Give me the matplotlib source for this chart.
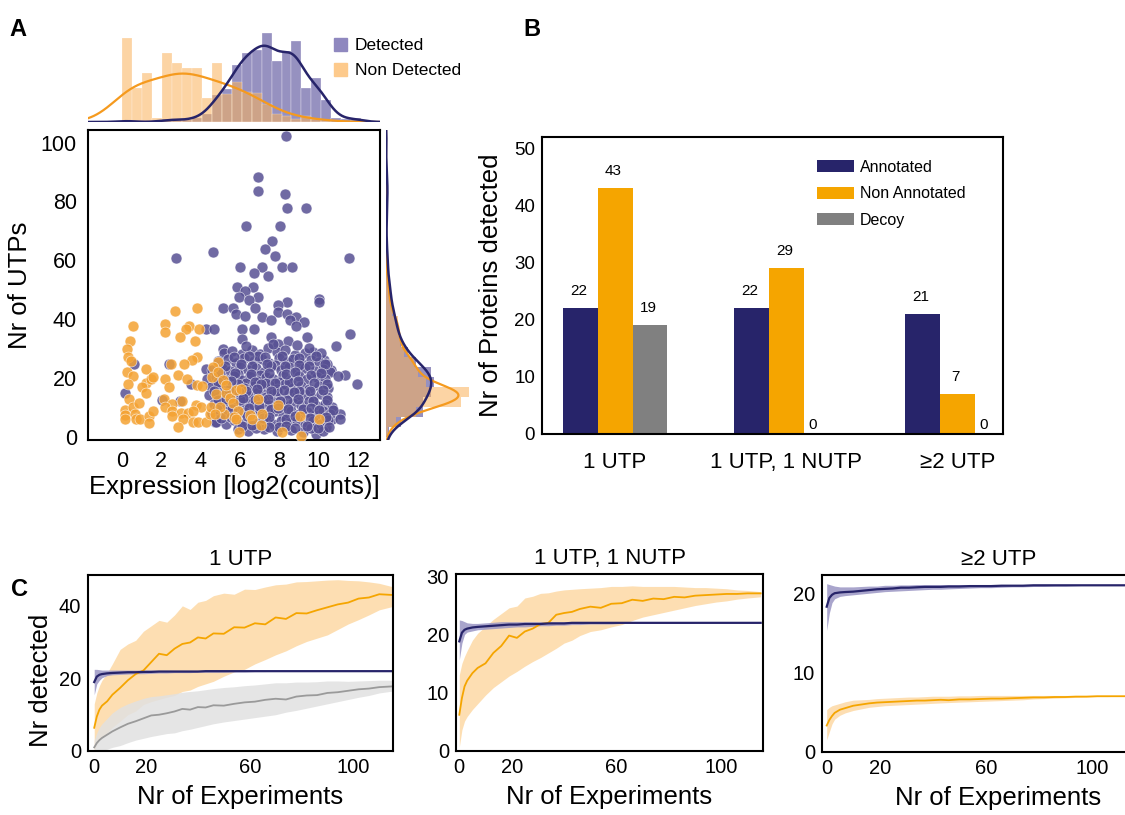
import numpy as np
import matplotlib
matplotlib.use('Agg')
import matplotlib.pyplot as plt
from matplotlib.patches import Patch

plt.rcParams['font.family'] = ['Liberation Sans', 'DejaVu Sans']

NAVY = '#27246a'
ORANGE = '#f5a500'
GREY = '#808080'
SC_PURPLE = '#575093'
SC_ORANGE = '#f4a233'

# ---------------- panel A data ----------------
det_x = [8.36, 6.94, 6.94, 8.29, 8.38, 9.36, 6.29, 8.03, 7.64, 7.27, 4.62, 7.77, 2.74, 11.56,
         6.01, 7.1, 8.16, 8.62, 6.73, 7.4, 5.83, 6.66, 6.25, 6.94, 5.96, 10.0, 10.04, 6.45,
         8.41, 7.92, 5.14, 5.63, 6.74, 7.92, 5.8, 6.25, 7.1, 8.38, 8.87, 4.29, 4.69, 9.26,
         7.56, 8.54, 6.69, 8.87, 6.12, 11.59, 9.39, 7.56, 6.12, 8.46, 7.92, 10.86, 5.14, 9.71,
         10.29, 10.65, 11.35, 11.97, 11.07, 10.69, 10.37, 9.88, 0.62, 0.16, 2.37, 2.04, 2.94,
         3.51, 4.29, 4.73,
         5.2, 5.6, 6.1, 6.6, 7.0, 7.4, 7.9, 8.3, 8.8, 9.3, 6.3, 7.7, 8.9, 9.5, 10.1,
         4.9, 5.4, 5.8, 6.2, 6.7, 7.1, 7.5, 8.0, 8.4, 8.7, 9.1, 9.6, 10.0, 10.4, 6.9, 7.8,
         4.6, 5.1, 5.5, 6.0, 6.4, 6.8, 7.2, 7.6, 8.1, 8.5, 8.9, 9.3, 9.8, 10.2, 10.6, 5.9, 7.0,
         4.3, 4.8, 5.3, 5.7, 6.1, 6.5, 6.9, 7.3, 7.7, 8.2, 8.6, 9.0, 9.4, 9.9, 10.3, 11.0, 8.0, 6.3,
         4.5, 5.0, 5.4, 5.9, 6.2, 6.7, 7.1, 7.5, 7.9, 8.3, 8.7, 9.1, 9.5, 10.0, 10.5, 7.3, 8.5,
         4.4, 4.9, 5.2, 5.7, 6.1, 6.5, 6.9, 7.3, 7.7, 8.1, 8.5, 8.9, 9.3, 9.7, 10.1, 10.4, 6.3, 7.9, 9.0,
         4.7, 5.1, 5.5, 5.9, 6.3, 6.7, 7.1, 7.5, 7.9, 8.3, 8.7, 9.1, 9.5, 9.9, 10.3, 10.7, 6.0, 8.4,
         4.6, 5.0, 5.4, 5.8, 6.2, 6.6, 7.0, 7.4, 7.8, 8.2, 8.6, 9.0, 9.4, 9.8, 10.2, 10.6, 7.6, 9.2,
         4.8, 5.3, 5.7, 6.1, 6.5, 6.9, 7.3, 7.7, 8.1, 8.5, 8.9, 9.3, 9.7, 10.1, 10.5, 11.1,
         5.9, 6.4, 7.2, 7.9, 8.6, 9.2, 9.6, 10.2, 8.0, 6.8,
         5.7, 6.45, 7.25, 8.15, 9.0, 9.85,
         5.25, 6.05, 6.6, 7.35, 8.3, 9.0, 9.5, 10.3,
         5.0, 5.75, 6.55, 7.45, 8.35, 8.8, 9.6, 10.1,
         4.9, 5.55, 6.75, 7.05, 7.8, 8.95, 9.75, 10.4,
         4.7, 5.45, 5.95, 6.85, 7.6, 8.25, 8.75, 9.55, 10.2,
         4.9, 5.3, 6.15, 6.75, 7.4, 8.05, 8.95, 9.7, 10.45,
         4.85, 5.6, 6.45, 6.95, 7.95, 8.45, 9.6, 10.0, 10.75,
         5.05, 5.55, 6.35, 7.15, 7.5, 8.35, 8.8, 9.55, 10.35,
         6.1, 6.6, 7.45, 8.35, 8.8, 9.4, 9.95, 10.55]
det_y = [102.4, 88.4, 83.6, 82.5, 77.7, 77.7, 71.7, 71.7, 66.7, 63.7, 62.7, 61.6, 60.7, 60.7,
         57.8, 57.8, 57.6, 57.6, 55.8, 54.6, 50.8, 50.8, 49.7, 47.6, 47.6, 46.8, 45.9, 46.5,
         45.7, 44.8, 43.9, 43.9, 43.7, 42.5, 41.6, 41.0, 40.8, 41.7, 40.8, 36.6, 36.6, 38.9,
         39.7, 39.7, 36.6, 37.8, 36.6, 34.8, 33.8, 34.0, 33.2, 32.7, 31.7, 30.8, 30.0, 28.9,
         26.1, 22.7, 21.0, 17.8, 7.9, 5.9, 3.2, 1.1, 24.7, 15.0, 24.7, 12.5, 12.2,
         18.1, 22.9, 4.9,
         28.5, 29.3, 28.0, 29.6, 28.2, 30.2, 28.7, 29.4, 27.9, 28.6, 30.8, 31.5, 31.2, 30.1, 28.4,
         25.8, 26.4, 25.1, 26.9, 25.6, 26.5, 25.2, 26.8, 25.5, 26.3, 25.0, 26.2, 25.3, 24.6, 27.4, 24.4,
         22.8, 23.5, 22.2, 23.8, 22.6, 23.3, 22.1, 23.9, 22.7, 23.6, 22.3, 23.4, 22.5, 23.1, 21.9, 21.5, 21.0,
         19.6, 20.3, 19.2, 20.6, 19.4, 20.8, 19.1, 20.4, 19.7, 20.9, 19.3, 20.5, 19.8, 20.2, 19.5, 20.7, 18.6, 18.2,
         16.8, 17.5, 16.3, 17.8, 16.6, 17.2, 16.1, 17.6, 16.4, 17.9, 16.7, 17.3, 16.2, 17.1, 16.5, 18.3, 18.5,
         14.2, 13.6, 14.8, 13.3, 14.5, 13.8, 15.1, 13.5, 14.7, 13.2, 14.9, 13.7, 14.4, 13.1, 14.6, 13.4, 15.6, 15.7, 15.5,
         11.3, 10.6, 11.9, 10.4, 11.6, 10.9, 12.2, 10.7, 11.8, 10.3, 11.5, 10.8, 12.0, 10.5, 11.2, 10.1, 12.6, 12.5,
         8.2, 7.5, 8.8, 7.2, 8.5, 7.8, 9.1, 7.4, 8.6, 7.1, 8.9, 7.7, 8.4, 7.3, 8.7, 7.6, 9.6, 9.5,
         5.1, 4.4, 5.6, 4.2, 5.3, 4.7, 5.9, 4.3, 5.4, 4.6, 5.8, 4.1, 5.2, 4.5, 5.7, 6.0,
         2.8, 2.1, 2.6, 1.8, 2.4, 1.5, 2.9, 1.9, 3.3, 3.0,
         27.1, 27.6, 27.0, 27.5, 26.9, 27.3,
         24.2, 24.8, 24.1, 24.7, 24.0, 24.5, 23.9, 24.9,
         21.3, 21.8, 21.4, 21.6, 21.2, 21.9, 21.1, 21.7,
         18.6, 18.9, 18.7, 17.9, 18.4, 18.8, 18.3, 18.1,
         15.4, 15.8, 15.2, 16.3, 15.4, 15.9, 15.2, 15.6, 15.9,
         12.4, 12.9, 13.1, 12.4, 12.8, 12.1, 12.7, 12.3, 12.6,
         9.6, 9.4, 9.8, 10.3, 9.9, 9.3, 9.7, 9.2, 9.1,
         6.3, 6.8, 6.9, 6.4, 6.6, 6.2, 6.9, 6.5, 6.8,
         3.5, 3.9, 3.4, 3.7, 2.9, 3.6, 3.0, 3.4]

nd_x = [0.57, 0.41, 0.24, 0.28, 0.46, 0.24, 0.57, 0.29, 0.36, 0.13, 0.16, 0.16, 0.54, 0.65,
        0.73, 0.9, 1.22, 1.22, 1.47, 1.58, 1.03, 1.22, 0.85, 1.36, 1.36, 1.6, 2.2, 2.2, 2.69,
        3.79, 3.4, 3.24, 3.92, 2.94, 3.71, 3.8, 3.56, 3.15, 2.5, 2.2, 2.86, 3.31, 3.8, 4.08,
        2.37, 2.16, 2.53, 3.07, 3.76, 4.0, 2.18, 2.53, 3.0, 3.35, 3.59, 2.53, 3.1, 3.59, 3.84,
        4.29, 2.86, 4.49, 4.53, 4.78, 4.9, 4.62, 4.57, 4.9, 5.14, 5.31, 5.47, 5.8, 6.04, 5.63,
        5.88, 5.71, 5.8, 5.93, 6.53, 6.61, 6.94, 7.1, 7.07, 7.92, 8.16, 9.03, 9.1, 10.0, 5.19,
        4.98, 5.31, 4.73]
nd_y = [37.8, 32.7, 29.7, 27.0, 25.9, 21.9, 20.7, 17.8, 12.8, 9.1, 7.4, 5.9, 10.2, 7.9,
        5.9, 5.9, 22.9, 18.4, 19.5, 20.2, 17.0, 15.0, 11.6, 7.0, 4.8, 8.7, 38.3, 35.7, 42.9,
        43.9, 37.8, 36.6, 36.6, 33.8, 32.7, 27.0, 26.1, 24.7, 24.7, 19.8, 21.0, 19.8, 17.6, 17.2,
        17.0, 12.7, 11.3, 12.1, 10.8, 10.0, 10.0, 8.8, 8.2, 8.2, 8.8, 7.0, 5.9, 5.1, 4.9,
        4.9, 3.2, 7.9, 10.0, 14.5, 25.5, 23.6, 20.4, 22.1, 19.3, 15.0, 13.3, 15.9, 16.1, 11.6,
        8.8, 6.8, 5.9, 1.7, 7.4, 6.0, 13.0, 7.9, 4.0, 10.8, 1.7, 7.0, 0.2, 5.9, 7.9,
        10.2, 17.6, 7.7]

# top marginal: expression histogram (24 bins starting at 0)
expr_bin_w = 0.507
expr_det_counts = [2, 0, 0, 0, 3, 2, 2, 4, 8, 27, 33, 57, 69, 72, 89, 61, 71, 81, 34, 44, 22, 4, 3, 4]
expr_nd_counts = [84, 34, 49, 4, 69, 59, 54, 54, 24, 59, 28, 40, 30, 29, 18, 8, 6, 3, 6, 3, 1, 0, 0, 0]

# right marginal: UTP histogram (30 bins starting at 0)
utp_bin_w = 3.41
utp_det_counts = [3, 15, 37, 37, 45, 48, 45, 30, 22, 15, 12, 10, 8, 5, 5, 3, 2, 2, 1, 1,
                  0, 1, 1, 1, 2, 1, 1, 0, 0, 1]
utp_nd_counts = [2, 10, 30, 75, 83, 40, 32, 28, 18, 14, 13, 12, 6, 4, 3, 2, 1, 0, 0, 0,
                 0, 0, 0, 0, 0, 0, 0, 0, 0, 0]

# ---------------- panel B data ----------------
groups = ['1 UTP', '1 UTP, 1 NUTP', '≥2 UTP']
annotated = [22, 22, 21]
non_annotated = [43, 29, 7]
decoy = [19, 0, 0]

# ---------------- panel C data ----------------
exp_n = [0, 1, 2, 3, 5, 7, 10, 13, 16, 19, 22, 25, 28, 31, 34, 37, 40, 43, 46, 50, 54, 58,
         62, 66, 70, 74, 78, 82, 86, 90, 94, 98, 102, 106, 110, 115]

c1_or_mean = [6.4, 9.5, 11.4, 12.5, 13.7, 15.5, 17.4, 19.5, 21.2, 22.2, 24.5, 26.8, 26.4, 28.2, 29.5,
              29.9, 31.3, 31.0, 32.4, 32.3, 34.1, 34.0, 35.2, 34.9, 36.8, 36.4, 38.0, 37.9, 38.8,
              39.6, 40.4, 40.9, 42.0, 42.3, 43.2, 43.0]
c1_or_hi = [13, 16, 18, 19.5, 21.5, 24, 28, 29.5, 30.5, 33, 34.5, 36, 35.5, 37.5, 40, 39, 41,
            41.5, 42.8, 43.5, 43.2, 44.6, 44.5, 45.2, 45.8, 46.0, 46.6, 46.7, 46.9, 47.1, 47.2,
            47.0, 46.9, 46.6, 46.2, 45.3]
c1_or_lo = [0, 2, 3, 3.8, 5, 6.5, 8.2, 10, 11, 12.8, 13.6, 14.2, 14.8, 15.3, 16.4, 16.8, 17.8,
            18.5, 19.2, 20.6, 21.8, 22.5, 24.0, 25.2, 26.5, 27.6, 29.0, 30.2, 31.1, 32.0, 33.5,
            35.0, 36.2, 37.5, 38.9, 39.8]
c1_nv_mean = [19.0, 20.5, 21.0, 21.2, 21.4, 21.5, 21.6, 21.7, 21.7, 21.8, 21.8, 21.9, 21.9, 21.9,
              21.9, 21.9, 21.9, 22.0, 22.0, 22.0, 22.0, 22.0, 22.0, 22.0, 22.0, 22.0, 22.0, 22.0,
              22.0, 22.0, 22.0, 22.0, 22.0, 22.0, 22.0, 22.0]
c1_nv_hi = [22.5, 22.5, 22.4, 22.3, 22.3, 22.3, 22.3, 22.3, 22.3, 22.3, 22.3, 22.2, 22.2, 22.2,
            22.2, 22.2, 22.2, 22.1, 22.1, 22.1, 22.1, 22.1, 22.0, 22.0, 22.0, 22.0, 22.0, 22.0,
            22.0, 22.0, 22.0, 22.0, 22.0, 22.0, 22.0, 22.0]
c1_nv_lo = [15.5, 18.5, 19.5, 20.2, 20.8, 21.0, 21.1, 21.2, 21.3, 21.3, 21.4, 21.5, 21.5, 21.6,
            21.6, 21.6, 21.7, 21.7, 21.7, 21.7, 21.8, 21.8, 21.9, 21.9, 22.0, 22.0, 22.0, 22.0,
            22.0, 22.0, 22.0, 22.0, 22.0, 22.0, 22.0, 22.0]
c1_gr_mean = [1.0, 2.2, 3.0, 3.6, 4.5, 5.4, 6.5, 7.5, 8.2, 9.0, 9.8, 10.0, 10.4, 10.9, 11.6, 11.4,
              12.1, 12.0, 12.6, 12.5, 13.0, 13.4, 13.6, 14.1, 14.4, 14.2, 15.0, 15.3, 15.4, 16.0,
              16.2, 16.6, 17.0, 17.2, 17.6, 17.8]
c1_gr_hi = [3, 5, 6.5, 7.5, 9, 10.5, 12, 13, 13.8, 14.5, 15, 15.2, 15.5, 15.8, 16.2, 16.4, 16.6,
            16.9, 17.2, 17.5, 17.7, 18.0, 18.2, 18.5, 18.8, 18.8, 19.0, 19.0, 19.1, 19.3, 19.3,
            19.2, 19.3, 19.4, 19.5, 19.5]
c1_gr_lo = [0, 0, 0, 0.2, 0.5, 1.0, 1.5, 2.3, 3.0, 3.5, 4.0, 4.4, 4.8, 5.0, 5.6, 6.0, 6.5, 7.0,
            7.5, 8.0, 8.4, 8.8, 9.2, 9.6, 10.0, 10.7, 11.2, 11.8, 12.4, 13.0, 13.6, 14.2, 14.8,
            15.3, 16.0, 16.5]

c2_or_mean = [6.1, 9.0, 11.0, 12.0, 13.3, 14.2, 15.0, 16.8, 18.0, 19.8, 19.4, 20.5, 21.0, 21.8,
              22.0, 23.4, 23.7, 23.9, 24.4, 24.8, 24.6, 25.3, 25.4, 26.0, 25.8, 26.2, 26.1, 26.5,
              26.4, 26.7, 26.8, 26.9, 27.0, 27.0, 27.1, 27.1]
c2_or_hi = [13, 15, 16.2, 17.2, 19, 20.2, 21.4, 22.6, 23.6, 24.6, 24.9, 26.3, 26.6, 27.1, 27.2,
            27.5, 27.7, 27.8, 27.9, 28.0, 28.1, 28.3, 28.3, 28.4, 28.3, 28.3, 28.3, 28.3, 28.2,
            28.1, 28.1, 28.0, 27.9, 27.7, 27.6, 27.4]
c2_or_lo = [0.5, 3.5, 5.0, 5.8, 7.0, 8.0, 9.5, 10.8, 11.8, 12.8, 13.6, 14.5, 15.3, 16.0, 16.8,
            17.6, 18.5, 19.0, 19.8, 20.5, 20.8, 21.3, 21.7, 22.4, 23.0, 23.4, 23.8, 24.2, 24.6,
            25.0, 25.3, 25.6, 25.8, 26.1, 26.3, 26.5]
c2_nv_mean = [18.8, 20.3, 20.8, 21.0, 21.2, 21.3, 21.4, 21.5, 21.6, 21.7, 21.7, 21.8, 21.8, 21.8,
              21.9, 21.9, 21.9, 22.0, 22.0, 22.0, 22.0, 22.0, 22.0, 22.0, 22.0, 22.0, 22.0, 22.0,
              22.0, 22.0, 22.0, 22.0, 22.0, 22.0, 22.0, 22.0]
c2_nv_hi = [22.5, 22.4, 22.2, 22.0, 21.9, 21.9, 22.0, 22.1, 22.2, 22.2, 22.2, 22.2, 22.2, 22.2,
            22.2, 22.2, 22.2, 22.2, 22.2, 22.2, 22.2, 22.2, 22.1, 22.1, 22.1, 22.1, 22.1, 22.1,
            22.1, 22.0, 22.0, 22.0, 22.0, 22.0, 22.0, 22.0]
c2_nv_lo = [15.6, 18.5, 20.0, 20.4, 20.6, 20.8, 20.9, 21.0, 21.1, 21.2, 21.3, 21.3, 21.4, 21.5,
            21.5, 21.6, 21.6, 21.7, 21.7, 21.8, 21.8, 21.8, 21.9, 21.9, 21.9, 21.9, 21.9, 21.9,
            21.9, 22.0, 22.0, 22.0, 22.0, 22.0, 22.0, 22.0]

c3_nv_mean = [18.3, 19.4, 19.8, 20.0, 20.1, 20.15, 20.2, 20.3, 20.4, 20.5, 20.55, 20.6, 20.7,
              20.7, 20.75, 20.8, 20.8, 20.8, 20.85, 20.85, 20.9, 20.9, 20.9, 20.95, 20.95, 20.95,
              21.0, 21.0, 21.0, 21.0, 21.0, 21.0, 21.0, 21.0, 21.0, 21.0]
c3_nv_hi = [21.2, 21.1, 21.0, 20.9, 20.8, 20.8, 20.8, 20.85, 20.9, 20.9, 21.0, 21.0, 21.05, 21.05,
            21.1, 21.1, 21.1, 21.1, 21.1, 21.1, 21.1, 21.1, 21.1, 21.1, 21.1, 21.1, 21.1, 21.1,
            21.1, 21.05, 21.05, 21.05, 21.0, 21.0, 21.0, 21.0]
c3_nv_lo = [15.3, 17.5, 18.8, 19.3, 19.6, 19.7, 19.8, 19.9, 20.0, 20.1, 20.2, 20.25, 20.3, 20.35,
            20.4, 20.45, 20.5, 20.5, 20.55, 20.6, 20.65, 20.7, 20.7, 20.75, 20.8, 20.8, 20.85,
            20.85, 20.9, 20.9, 20.95, 21.0, 21.0, 21.0, 21.0, 21.0]
c3_or_mean = [3.3, 4.0, 4.5, 4.9, 5.3, 5.5, 5.8, 5.95, 6.1, 6.2, 6.25, 6.3, 6.35, 6.4, 6.45, 6.45,
              6.5, 6.55, 6.5, 6.6, 6.6, 6.65, 6.7, 6.7, 6.75, 6.8, 6.85, 6.85, 6.9, 6.9, 6.95,
              6.95, 7.0, 7.0, 7.0, 7.0]
c3_or_hi = [5.3, 5.6, 5.8, 5.9, 6.1, 6.3, 6.5, 6.55, 6.6, 6.7, 6.75, 6.8, 6.85, 6.9, 6.9, 6.95,
            7.0, 7.0, 7.0, 7.05, 7.05, 7.1, 7.1, 7.1, 7.1, 7.1, 7.1, 7.1, 7.1, 7.1, 7.1, 7.1,
            7.1, 7.05, 7.05, 7.05]
c3_or_lo = [1.5, 2.5, 3.5, 4.1, 4.6, 4.9, 5.2, 5.4, 5.6, 5.7, 5.8, 5.85, 5.9, 5.95, 6.0, 6.05,
            6.1, 6.15, 6.2, 6.25, 6.3, 6.35, 6.4, 6.45, 6.5, 6.55, 6.65, 6.7, 6.75, 6.8, 6.85,
            6.9, 6.95, 6.95, 7.0, 7.0]


W, H = 1125, 815
fig = plt.figure(figsize=(W / 100, H / 100), dpi=100)


def add_ax(left, top, right, bottom):
    return fig.add_axes([left / W, 1 - bottom / H, (right - left) / W, (bottom - top) / H])


def kde(counts, bin_w, grid, bw):
    centers = (np.arange(len(counts)) + 0.5) * bin_w
    dens = np.zeros_like(grid)
    for c, n in zip(centers, counts):
        dens += n * np.exp(-0.5 * ((grid - c) / bw) ** 2)
    return dens / (bw * np.sqrt(2 * np.pi)) * bin_w


def frame(ax, lw=1.5):
    for s in ax.spines.values():
        s.set_linewidth(lw)
        s.set_color('black')
    ax.tick_params(length=0)


# ---------------- A: scatter ----------------
ax = add_ax(88, 130, 380, 440)
ax.scatter(det_x, det_y, s=62, color=SC_PURPLE, alpha=0.85, edgecolor='white', linewidth=0.4, zorder=2)
ax.scatter(nd_x, nd_y, s=62, color=SC_ORANGE, alpha=0.85, edgecolor='white', linewidth=0.4, zorder=3)
ax.set_xlim(-1.73, 13.12)
ax.set_ylim(-1.1, 104.3)
ax.set_xticks([0, 2, 4, 6, 8, 10, 12])
ax.set_yticks([0, 20, 40, 60, 80, 100])
frame(ax)
ax.tick_params(labelsize=15.5, pad=8)
ax.set_xlabel('Expression [log2(counts)]', fontsize=18.5, labelpad=2)
ax.set_ylabel('Nr of UTPs', fontsize=18.5, labelpad=6)

# top marginal
axt = add_ax(88, 28, 380, 122)
edges = np.arange(len(expr_det_counts)) * expr_bin_w
axt.bar(edges, expr_det_counts, width=expr_bin_w, align='edge', color='#6a62a6', alpha=0.7,
        edgecolor='white', linewidth=0.3)
axt.bar(edges, expr_nd_counts, width=expr_bin_w, align='edge', color='#fbb25a', alpha=0.55,
        edgecolor='white', linewidth=0.3)
gx = np.linspace(-1.73, 13.12, 400)
axt.plot(gx, kde(expr_nd_counts, expr_bin_w, gx, 1.1), color='#f59a1e', lw=1.6)
axt.plot(gx, kde(expr_det_counts, expr_bin_w, gx, 0.5), color=NAVY, lw=1.8)
axt.set_xlim(-1.73, 13.12)
axt.set_ylim(0, 94)
axt.axis('off')

# right marginal
axr = add_ax(386, 130, 476, 440)
yedges = np.arange(len(utp_det_counts)) * utp_bin_w
axr.barh(yedges, utp_det_counts, height=utp_bin_w, align='edge', color='#6a62a6', alpha=0.7,
         linewidth=0)
axr.barh(yedges, utp_nd_counts, height=utp_bin_w, align='edge', color='#fbb25a', alpha=0.55,
         linewidth=0)
gy = np.linspace(-1.1, 104.3, 400)
axr.plot(kde(utp_nd_counts, utp_bin_w, gy, 2.6), gy, color='#f59a1e', lw=1.6)
axr.plot(kde(utp_det_counts, utp_bin_w, gy, 3.2), gy, color=NAVY, lw=1.8)
axr.set_ylim(-1.1, 104.3)
axr.set_xlim(0, 90)
axr.axis('off')

fig.legend(handles=[Patch(color='#8f88bf', label='Detected'),
                    Patch(color='#fdca8c', label='Non Detected')],
           loc='upper left', bbox_to_anchor=(334 / W, 1 - 38 / H), frameon=False,
           fontsize=12.5, handlelength=0.75, handleheight=0.75, handletextpad=0.45,
           labelspacing=0.55, borderpad=0, borderaxespad=0)

# ---------------- B: bars ----------------
axb = add_ax(542, 136.6, 1003, 434)
pos = np.arange(len(groups))
bw = 0.203
series = [(annotated, NAVY, 'Annotated', -bw), (non_annotated, ORANGE, 'Non Annotated', 0),
          (decoy, GREY, 'Decoy', bw)]
for vals, col, lab, off in series:
    axb.bar(pos + off, vals, width=bw, color=col, label=lab)
    for p, v in zip(pos, vals):
        if v > 0:
            axb.text(p + off - 0.01, v + 3.0, str(v), ha='center', va='center', fontsize=11)
        else:
            axb.text(p + off - 0.05, 1.6, str(v), ha='center', va='center', fontsize=11)
axb.set_xlim(-0.427, 2.265)
axb.set_ylim(0, 52)
axb.set_yticks([0, 10, 20, 30, 40, 50])
axb.set_xticks(pos)
axb.set_xticklabels(groups)
frame(axb)
axb.tick_params(axis='y', labelsize=13.5, pad=5)
axb.tick_params(axis='x', labelsize=16, pad=13)
axb.set_ylabel('Nr of Proteins detected', fontsize=18.5, labelpad=8)
axb.legend(loc='upper left', bbox_to_anchor=(0.597, 0.922), frameon=False, fontsize=11.5,
           handlelength=2.3, handleheight=0.8, handletextpad=0.35, labelspacing=0.72,
           borderpad=0, borderaxespad=0)

# ---------------- C: accumulation curves ----------------
c_panels = [
    ((88, 575, 393, 751), (-2.4, 115.3), (0, 48.5), [0, 20, 40], '1 UTP',
     [(c1_or_lo, c1_or_hi, c1_or_mean, '#fdd9a5', ORANGE),
      (c1_gr_lo, c1_gr_hi, c1_gr_mean, '#e1e1e1', '#9a9a9a'),
      (c1_nv_lo, c1_nv_hi, c1_nv_mean, '#9a95c4', NAVY)]),
    ((456, 574, 763, 751), (-1.26, 115.9), (-0.17, 30.45), [0, 10, 20, 30], '1 UTP, 1 NUTP',
     [(c2_or_lo, c2_or_hi, c2_or_mean, '#fdd9a5', ORANGE),
      (c2_nv_lo, c2_nv_hi, c2_nv_mean, '#9a95c4', NAVY)]),
    ((822, 575, 1175, 752), (-1.77, 131.4), (-0.04, 22.3), [0, 10, 20], '≥2 UTP',
     [(c3_or_lo, c3_or_hi, c3_or_mean, '#fdd9a5', ORANGE),
      (c3_nv_lo, c3_nv_hi, c3_nv_mean, '#9a95c4', NAVY)]),
]
for i, (box, xl, yl, yt, title, lines) in enumerate(c_panels):
    axc = add_ax(*box)
    for lo, hi, mean, fill, col in lines:
        axc.fill_between(exp_n, lo, hi, color=fill, alpha=0.85, linewidth=0)
    for lo, hi, mean, fill, col in lines:
        axc.plot(exp_n, mean, color=col, lw=1.6 if col == NAVY else 1.3)
    axc.set_xlim(*xl)
    axc.set_ylim(*yl)
    axc.set_xticks([0, 20, 60, 100])
    axc.set_yticks(yt)
    frame(axc)
    axc.tick_params(labelsize=14.5, pad=5)
    axc.set_title(title, fontsize=16, pad=7)
    axc.set_xlabel('Nr of Experiments', fontsize=18.5, labelpad=6)
    if i == 0:
        axc.set_ylabel('Nr detected', fontsize=18.5)
        axc.yaxis.set_label_coords(-0.115, 0.40)

fig.text(18 / W, 1 - 30 / H, 'A', fontsize=17, fontweight='bold', ha='center', va='center')
fig.text(532 / W, 1 - 30 / H, 'B', fontsize=17, fontweight='bold', ha='center', va='center')
fig.text(20 / W, 1 - 590 / H, 'C', fontsize=17, fontweight='bold', ha='center', va='center')

fig.savefig('out.png', dpi=100)
